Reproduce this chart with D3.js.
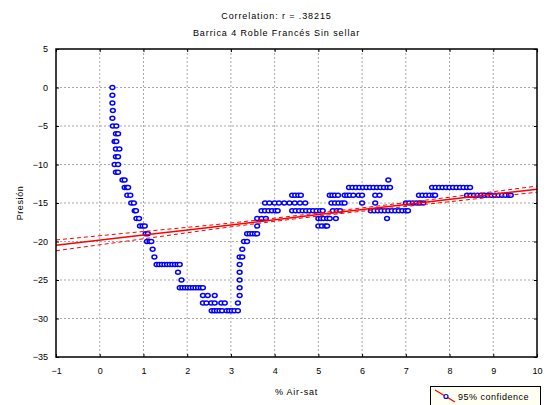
<!DOCTYPE html>
<html>
<head>
<meta charset="utf-8">
<script src="https://cdn.jsdelivr.net/npm/d3@7/dist/d3.min.js"></script>
<style>
  html, body { margin: 0; padding: 0; background: #fff; }
  svg { display: block; font-family: 'Liberation Sans', Arial, sans-serif; }
</style>
</head>
<body>
<svg id="chart" width="551" height="405"></svg>
<script>
// [% Air-sat, Presión], grouped by part of the curve
const descentPoints = [
  [0.29, 0], [0.29, -1], [0.29, -2], [0.30, -3], [0.29, -4], [0.30, -5], [0.38, -5],
  [0.37, -6], [0.42, -6], [0.34, -7], [0.38, -7], [0.37, -8], [0.45, -8], [0.37, -9],
  [0.42, -9], [0.34, -10], [0.42, -10], [0.37, -11], [0.42, -11], [0.52, -12], [0.57, -12],
  [0.57, -13], [0.62, -13], [0.65, -13], [0.63, -14], [0.70, -14], [0.72, -15], [0.78, -15],
  [0.80, -16], [0.83, -16], [0.84, -17], [0.90, -17], [0.92, -18], [0.98, -18], [1.03, -18],
  [1.05, -19], [1.10, -19], [1.08, -20], [1.14, -20], [1.18, -20], [1.21, -21], [1.25, -22]
]

const valleyPoints = [
  [1.30, -23], [1.36, -23], [1.42, -23], [1.48, -23], [1.54, -23], [1.60, -23], [1.66, -23],
  [1.72, -23], [1.78, -23], [1.83, -23], [1.79, -24], [1.87, -25],
  [1.83, -26], [1.89, -26], [1.95, -26], [2.01, -26], [2.07, -26], [2.13, -26], [2.19, -26],
  [2.25, -26], [2.31, -26], [2.36, -26], [2.36, -27], [2.47, -27], [2.63, -27],
  [2.36, -28], [2.44, -28], [2.55, -28], [2.63, -28], [2.78, -28], [2.86, -28],
  [2.56, -29], [2.62, -29], [2.68, -29], [2.74, -29], [2.80, -29], [2.90, -29], [2.96, -29],
  [3.02, -29], [3.08, -29], [3.16, -29]
]

const risePoints = [
  [3.16, -28], [3.20, -27], [3.20, -26], [3.20, -25], [3.20, -24], [3.20, -23], [3.20, -22],
  [3.26, -22], [3.26, -21], [3.30, -20], [3.37, -20], [3.37, -19], [3.43, -19], [3.49, -19],
  [3.55, -19], [3.60, -19], [3.60, -18], [3.60, -17], [3.70, -17], [3.80, -17],
  [3.70, -16], [3.78, -16], [3.86, -16], [3.94, -16], [4.02, -16], [4.07, -16],
  [3.78, -15], [3.88, -15], [4.00, -15], [4.10, -15], [4.22, -15], [4.34, -15], [4.46, -15],
  [4.58, -15], [4.70, -15], [4.40, -14], [4.47, -14], [4.54, -14], [4.60, -14]
]

const middlePoints = [
  [4.40, -16], [4.48, -16], [4.56, -16], [4.64, -16], [4.72, -16], [4.80, -16], [4.88, -16],
  [4.96, -16], [5.04, -16], [5.10, -16], [5.00, -17], [5.06, -17], [5.12, -17], [5.20, -17],
  [5.26, -17], [5.40, -17], [5.00, -18], [5.08, -18], [5.16, -18], [5.20, -18],
  [5.26, -14], [5.32, -14], [5.38, -14], [5.45, -14], [5.60, -14], [5.66, -14], [5.72, -14],
  [5.80, -14], [5.92, -14], [6.00, -14], [6.30, -14], [6.40, -14],
  [5.30, -15], [5.38, -15], [5.46, -15], [5.54, -15], [5.60, -15], [6.00, -15], [6.30, -15],
  [5.33, -16], [5.42, -16], [5.50, -16], [6.20, -16], [6.28, -16], [6.36, -16], [6.44, -16],
  [6.52, -16], [6.60, -16], [6.68, -16], [6.76, -16], [6.84, -16], [6.92, -16], [7.00, -16],
  [5.70, -13], [5.78, -13], [5.86, -13], [5.94, -13], [6.02, -13], [6.10, -13], [6.18, -13],
  [6.26, -13], [6.34, -13], [6.42, -13], [6.50, -13], [6.58, -13], [6.64, -13],
  [6.60, -12], [6.57, -17]
]

const plateauPoints = [
  [7.00, -15], [7.08, -15], [7.16, -15], [7.24, -15], [7.32, -15], [7.40, -15], [7.05, -16],
  [7.30, -14], [7.38, -14], [7.46, -14], [7.54, -14], [7.62, -14], [7.67, -14],
  [7.60, -13], [7.68, -13], [7.76, -13], [7.84, -13], [7.92, -13], [8.00, -13], [8.08, -13],
  [8.16, -13], [8.24, -13], [8.32, -13], [8.40, -13], [8.47, -13],
  [8.40, -14], [8.48, -14], [8.56, -14], [8.64, -14], [8.72, -14], [8.80, -14], [8.88, -14],
  [8.96, -14], [9.04, -14], [9.12, -14], [9.20, -14], [9.28, -14], [9.36, -14], [9.40, -14]
]

// fitted line and 95% band, read at a few x positions
const fitX = [-1, 1, 3, 5, 7, 10]
const fitY = [-20.5, -19.17, -17.85, -16.5, -15.2, -13.2]
const bandUpper = [-19.8, -18.7, -17.6, -16.3, -14.95, -12.8]
const bandLower = [-21.2, -19.65, -18.1, -16.7, -15.45, -13.6]

const xTicks = [-1, 0, 1, 2, 3, 4, 5, 6, 7, 8, 9, 10]
const yTicks = [5, 0, -5, -10, -15, -20, -25, -30, -35]

const titleLines = ['Correlation: r = .38215', 'Barrica 4 Roble Francés Sin sellar']
const xLabel = '% Air-sat'
const yLabel = 'Presión'
const legendLabel = '95% confidence'

/**
 * Draw the scatterplot with regression line and confidence band
 */
function drawViz () {
  const svg = d3.select('#chart')
  const width = 551
  const margin = { top: 49, right: 14, bottom: 48, left: 56 }
  const plot = { x0: margin.left, x1: width - margin.right, y0: margin.top, y1: 405 - margin.bottom }

  const x = d3.scaleLinear().domain([-1, 10]).range([plot.x0, plot.x1])
  const y = d3.scaleLinear().domain([-35, 5]).range([plot.y1, plot.y0])

  // titles
  svg.selectAll('.title')
    .data(titleLines)
    .enter()
    .append('text')
    .attr('class', 'title')
    .attr('x', width / 2 + 1)
    .attr('y', (d, i) => 19 + i * 17)
    .attr('text-anchor', 'middle')
    .style('font-size', '9px')
    .style('letter-spacing', '0.9px')
    .text((d) => d)

  // dotted grid
  const grid = svg.append('g').attr('class', 'grid')
    .attr('stroke', '#a8a8a8')
    .attr('stroke-dasharray', '2,2')
  grid.selectAll('.vx')
    .data(xTicks.slice(1, -1))
    .enter()
    .append('line')
    .attr('x1', (d) => x(d)).attr('x2', (d) => x(d))
    .attr('y1', plot.y0).attr('y2', plot.y1)
  grid.selectAll('.hy')
    .data(yTicks.slice(1, -1))
    .enter()
    .append('line')
    .attr('x1', plot.x0).attr('x2', plot.x1)
    .attr('y1', (d) => y(d)).attr('y2', (d) => y(d))

  // axes, ticks pointing inward
  const fmt = d3.format('d')
  const styleAxis = (g) => {
    g.select('.domain').remove()
    g.selectAll('text').style('font-size', '9px').attr('fill', '#000')
    g.selectAll('line').attr('stroke', '#000')
  }
  svg.append('g')
    .attr('transform', `translate(0,${plot.y1})`)
    .call(d3.axisBottom(x).tickValues(xTicks).tickFormat(fmt).tickSize(-3).tickPadding(11))
    .call(styleAxis)
  svg.append('g')
    .attr('transform', `translate(0,${plot.y0})`)
    .call(d3.axisTop(x).tickValues(xTicks).tickFormat('').tickSize(-3))
    .call(styleAxis)
  svg.append('g')
    .attr('transform', `translate(${plot.x0},0)`)
    .call(d3.axisLeft(y).tickValues(yTicks).tickFormat(fmt).tickSize(-3).tickPadding(8))
    .call(styleAxis)
  svg.append('g')
    .attr('transform', `translate(${plot.x1},0)`)
    .call(d3.axisRight(y).tickValues(yTicks).tickFormat('').tickSize(-3))
    .call(styleAxis)

  // data points
  const points = [].concat(descentPoints, valleyPoints, risePoints, middlePoints, plateauPoints)
  svg.append('g')
    .attr('class', 'points')
    .selectAll('ellipse')
    .data(points)
    .enter()
    .append('ellipse')
    .attr('cx', (d) => x(d[0]))
    .attr('cy', (d) => y(d[1]))
    .attr('rx', 2.4)
    .attr('ry', 2)
    .attr('fill', '#fff')
    .attr('stroke', '#0000ff')
    .attr('stroke-width', 1.5)

  // regression line + band
  const line = d3.line()
    .x((d) => x(d[0]))
    .y((d) => y(d[1]))
    .curve(d3.curveMonotoneX)
  const fitGroup = svg.append('g').attr('fill', 'none').attr('stroke', '#ff0000')
  fitGroup.append('path')
    .datum(fitX.map((v, i) => [v, fitY[i]]))
    .attr('stroke-width', 1.5)
    .attr('d', line)
  ;[bandUpper, bandLower].forEach((band) => {
    fitGroup.append('path')
      .datum(fitX.map((v, i) => [v, band[i]]))
      .attr('stroke-width', 1)
      .attr('stroke-dasharray', '4,3')
      .attr('d', line)
  })

  // frame
  svg.append('rect')
    .attr('x', plot.x0)
    .attr('y', plot.y0)
    .attr('width', plot.x1 - plot.x0)
    .attr('height', plot.y1 - plot.y0)
    .attr('fill', 'none')
    .attr('stroke', '#000')
    .attr('stroke-width', 1.5)

  // axis titles
  svg.append('text')
    .attr('x', (plot.x0 + plot.x1) / 2)
    .attr('y', 395)
    .attr('text-anchor', 'middle')
    .style('font-size', '9px')
    .style('letter-spacing', '0.8px')
    .text(xLabel)
  svg.append('text')
    .attr('transform', `translate(23,${(plot.y0 + plot.y1) / 2}) rotate(-90)`)
    .attr('text-anchor', 'middle')
    .style('font-size', '9px')
    .style('letter-spacing', '0.6px')
    .text(yLabel)

  // legend
  const legend = svg.append('g').attr('class', 'legend')
  legend.append('rect')
    .attr('x', 430.5).attr('y', 386.5)
    .attr('width', 110).attr('height', 26)
    .attr('fill', '#fffff2')
    .attr('stroke', '#000')
  legend.append('line')
    .attr('x1', 435).attr('y1', 390)
    .attr('x2', 455).attr('y2', 402)
    .attr('stroke', '#ff0000')
    .attr('stroke-width', 1.2)
  legend.append('circle')
    .attr('cx', 446).attr('cy', 396.5)
    .attr('r', 2)
    .attr('fill', '#fff')
    .attr('stroke', '#0000ff')
    .attr('stroke-width', 1.2)
  legend.append('text')
    .attr('x', 458).attr('y', 400)
    .style('font-size', '9px')
    .style('letter-spacing', '0.5px')
    .text(legendLabel)
}

drawViz()
</script>
</body>
</html>
